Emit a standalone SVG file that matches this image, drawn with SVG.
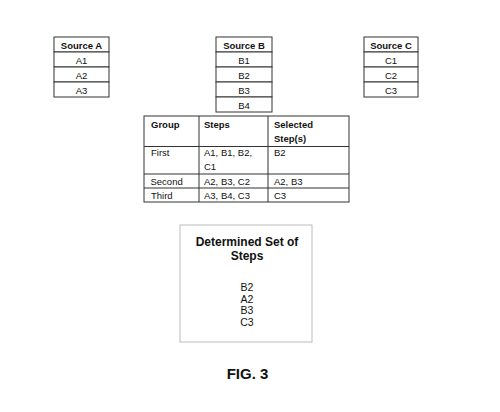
<svg xmlns="http://www.w3.org/2000/svg" width="500" height="412" viewBox="0 0 500 412">
<style>
.cell{fill:#fff;stroke:#333;stroke-width:1}
.t{font-family:"Liberation Sans",Arial,sans-serif;font-size:9.5px;fill:#111}
.b{font-weight:bold}
.c{text-anchor:middle}
.d{font-family:"Liberation Sans",Arial,sans-serif;font-size:10.5px;fill:#111;text-anchor:middle}
.h{font-size:12px;font-weight:bold}
</style>
<rect width="500" height="412" fill="#fff"/>
<g id="sourceA">
<rect class="cell" x="54" y="37" width="55" height="15"/>
<rect class="cell" x="54" y="52" width="55" height="15"/>
<rect class="cell" x="54" y="67" width="55" height="15"/>
<rect class="cell" x="54" y="82" width="55" height="15"/>
<text class="t b c" x="81.5" y="48.5">Source A</text>
<text class="t c" x="81.5" y="63.5">A1</text>
<text class="t c" x="81.5" y="78.5">A2</text>
<text class="t c" x="81.5" y="93.5">A3</text>
</g>
<g id="sourceB">
<rect class="cell" x="216" y="37" width="56" height="15"/>
<rect class="cell" x="216" y="52" width="56" height="15"/>
<rect class="cell" x="216" y="67" width="56" height="15"/>
<rect class="cell" x="216" y="82" width="56" height="15"/>
<rect class="cell" x="216" y="97" width="56" height="15"/>
<text class="t b c" x="244" y="48.5">Source B</text>
<text class="t c" x="244" y="63.5">B1</text>
<text class="t c" x="244" y="78.5">B2</text>
<text class="t c" x="244" y="93.5">B3</text>
<text class="t c" x="244" y="108.5">B4</text>
</g>
<g id="sourceC">
<rect class="cell" x="364" y="37" width="54" height="15"/>
<rect class="cell" x="364" y="52" width="54" height="15"/>
<rect class="cell" x="364" y="67" width="54" height="15"/>
<rect class="cell" x="364" y="82" width="54" height="15"/>
<text class="t b c" x="391" y="48.5">Source C</text>
<text class="t c" x="391" y="63.5">C1</text>
<text class="t c" x="391" y="78.5">C2</text>
<text class="t c" x="391" y="93.5">C3</text>
</g>
<g id="groupTable">
<rect class="cell" x="144" y="116" width="205" height="86"/>
<line x1="199" y1="116" x2="199" y2="202" stroke="#333"/>
<line x1="268" y1="116" x2="268" y2="202" stroke="#333"/>
<line x1="144" y1="146.5" x2="349" y2="146.5" stroke="#333"/>
<line x1="144" y1="174" x2="349" y2="174" stroke="#333"/>
<line x1="144" y1="188" x2="349" y2="188" stroke="#333"/>
<text class="t b" x="151" y="127.5">Group</text>
<text class="t b" x="204" y="127.5">Steps</text>
<text class="t b" x="274" y="127.5">Selected</text>
<text class="t b" x="274" y="141.5">Step(s)</text>
<text class="t" x="151" y="156">First</text>
<text class="t" x="204" y="156">A1, B1, B2,</text>
<text class="t" x="204" y="170">C1</text>
<text class="t" x="274" y="156">B2</text>
<text class="t" x="150.5" y="184.5">Second</text>
<text class="t" x="204" y="184.5">A2, B3, C2</text>
<text class="t" x="274" y="184.5">A2, B3</text>
<text class="t" x="151" y="198.5">Third</text>
<text class="t" x="204" y="198.5">A3, B4, C3</text>
<text class="t" x="274" y="198.5">C3</text>
</g>
<g id="determined">
<rect x="180" y="225" width="132" height="117" fill="#fff" stroke="#bbb" stroke-width="1"/>
<text class="d h" x="247" y="246">Determined Set of</text>
<text class="d h" x="247" y="260">Steps</text>
<text class="d" x="247" y="291">B2</text>
<text class="d" x="247" y="302.7">A2</text>
<text class="d" x="247" y="314.4">B3</text>
<text class="d" x="247" y="326.2">C3</text>
</g>
<g id="connectors"/>
<text x="247.5" y="379" font-family="'Liberation Sans',Arial,sans-serif" font-size="15" font-weight="bold" text-anchor="middle" fill="#111">FIG. 3</text>
</svg>
